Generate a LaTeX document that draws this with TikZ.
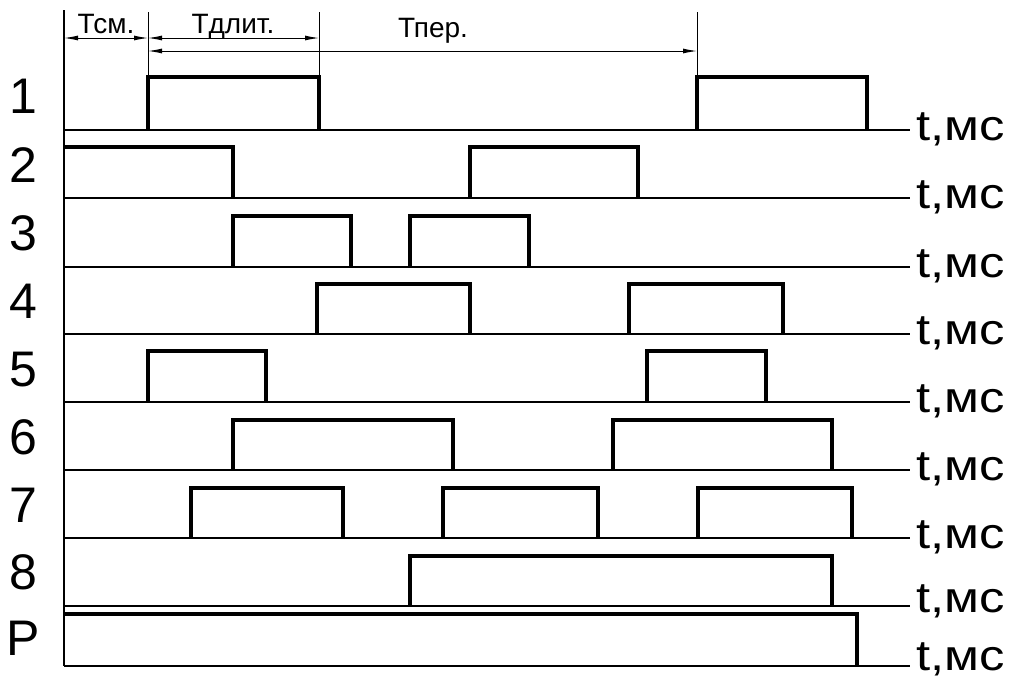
\documentclass[tikz,border=0pt]{standalone}
\usepackage{fontspec}
\setmainfont{Liberation Sans}
\usetikzlibrary{arrows.meta}
\begin{document}
\begin{tikzpicture}[x=1pt,y=-1pt,
  axisline/.style={line width=1.4pt},
  extline/.style={line width=0.9pt},
  pulseline/.style={line width=3.8pt, line join=miter, line cap=butt},
  dimarrow/.style={line width=1pt, {Latex[length=14pt,width=5pt]}-{Latex[length=14pt,width=5pt]}},
  rowlabel/.style={anchor=base, inner sep=0pt, font=\fontsize{50}{50}\selectfont},
  unitlabel/.style={anchor=base west, inner sep=0pt, font=\fontsize{43}{43}\selectfont},
  dimlabel/.style={anchor=base, inner sep=0pt, font=\fontsize{28}{28}\selectfont}]
\path[use as bounding box] (0,0) rectangle (1014,681);

% axis
\coordinate (axtop) at (64,10);
\coordinate (axbot) at (64,666);
\draw[axisline] (axtop) -- (axbot);

% baselines, row labels, unit labels
\foreach \yb/\yl/\yu/\lab [count=\i] in {130/113/140/1, 198/182/208/2, 267/250/277/3, 334/318/344/4, 402/386/412/5, 470/454/480/6, 538/522/548/7, 606/589/612/8, 666/655/670/P}{
  \coordinate (bl\i) at (64,\yb);
  \coordinate (br\i) at (910,\yb);
  \draw[axisline] (bl\i) -- (br\i);
  \node[rowlabel] (lab\i) at (23,\yl) {\lab};
  \node[unitlabel] (unit\i) at (916,\yu) {\scalebox{1.18}[1]{t,мс}};
}

\newcommand\onepulse[4]{\draw[pulseline] (#1,#3) -- (#1,#4) -- (#2,#4) -- (#2,#3);}
% row 1
\onepulse{148}{319}{130}{77}
\onepulse{697}{867}{130}{77}
% row 2
\draw[pulseline] (64,147) -- (233,147) -- (233,198);
\onepulse{470}{638}{198}{147}
% row 3
\onepulse{233}{351}{267}{216}
\onepulse{410}{529}{267}{216}
% row 4
\onepulse{317}{470}{334}{284}
\onepulse{629}{783}{334}{284}
% row 5
\onepulse{148}{266}{402}{351}
\onepulse{647}{766}{402}{351}
% row 6
\onepulse{233}{453}{470}{420}
\onepulse{613}{832}{470}{420}
% row 7
\onepulse{191}{343}{538}{488}
\onepulse{443}{598}{538}{488}
\onepulse{698}{852}{538}{488}
% row 8
\onepulse{410}{832}{606}{556}
% row P
\draw[pulseline] (64,614) -- (857,614) -- (857,666);

% extension lines
\coordinate (e1t) at (148,12); \coordinate (e1b) at (148,77);
\coordinate (e2t) at (319,12); \coordinate (e2b) at (319,77);
\coordinate (e3t) at (697,12); \coordinate (e3b) at (697,77);
\draw[extline] (e1t) -- (e1b);
\draw[extline] (e2t) -- (e2b);
\draw[extline] (e3t) -- (e3b);

% dimension arrows
\coordinate (d0) at (64,38);
\coordinate (d1) at (148,38);
\coordinate (d2) at (319,38);
\coordinate (p1) at (148,51);
\coordinate (p2) at (697,51);
\draw[dimarrow] (d0) -- (d1);
\draw[dimarrow] (d1) -- (d2);
\draw[dimarrow] (p1) -- (p2);
\node[dimlabel] (tsm) at (106,33) {Тсм.};
\node[dimlabel] (tdl) at (233,33) {Тдлит.};
\node[dimlabel] (tper) at (433,37) {Тпер.};
\end{tikzpicture}
\end{document}
